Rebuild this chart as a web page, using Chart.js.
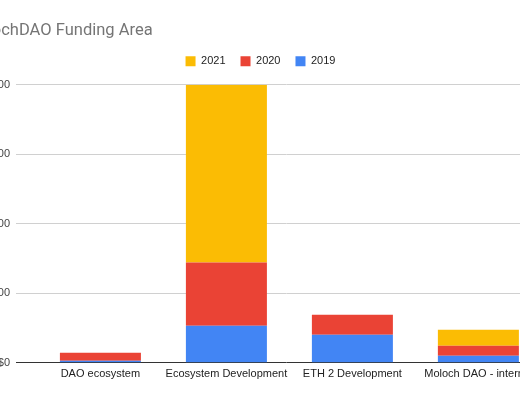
<!DOCTYPE html>
<html>
<head>
<meta charset="utf-8">
<script src="https://cdn.jsdelivr.net/npm/chart.js@4"></script>
<style>
  html, body { margin: 0; padding: 0; background: #fff; overflow: hidden; width: 520px; height: 400px; }
  #wrap { position: absolute; left: -70px; top: 0; width: 660px; height: 400px; }
</style>
</head>
<body>
<div id="wrap"><canvas id="chart"></canvas></div>
<script>
var categories = ['DAO ecosystem', 'Ecosystem Development', 'ETH 2 Development', 'Moloch DAO - internal'];
var funding2019 = [14000, 267000, 202000, 50000];
var funding2020 = [58000, 455000, 144000, 72000];
var funding2021 = [0, 1278000, 0, 116000];
var yTicks = [0, 500000, 1000000, 1500000, 2000000];

function points(values) {
    return values.map(function(v, i) { return { x: i, y: v }; });
}

var tickFont = { family: "'Liberation Sans', Arial, sans-serif", size: 11 };

// a bit more room under the legend
var legendGap = {
    id: 'legendGap',
    beforeInit: function(chart) {
        var fit = chart.legend.fit;
        chart.legend.fit = function() {
            fit.bind(chart.legend)();
            this.height += 8;
        };
    }
};

var chart = new Chart(document.getElementById('chart'), {
    type: 'bar',
    data: {
        datasets: [
            { label: '2019', data: points(funding2019), backgroundColor: '#4285f4' },
            { label: '2020', data: points(funding2020), backgroundColor: '#ea4335' },
            { label: '2021', data: points(funding2021), backgroundColor: '#fbbc04' }
        ]
    },
    plugins: [legendGap],
    options: {
        responsive: true,
        maintainAspectRatio: false,
        animation: false,
        barPercentage: 0.643,
        categoryPercentage: 1,
        layout: { padding: { left: 34, right: 33, top: 21, bottom: 14 } },
        plugins: {
            title: {
                display: true,
                text: 'MolochDAO Funding Area',
                align: 'start',
                color: '#757575',
                font: { family: 'Roboto, sans-serif', size: 16.5, weight: 'normal' },
                padding: { top: 0, bottom: 0 }
            },
            legend: {
                reverse: true,
                labels: {
                    boxWidth: 10,
                    boxHeight: 10,
                    padding: 15,
                    color: '#222',
                    font: tickFont
                }
            },
            tooltip: { enabled: false }
        },
        scales: {
            x: {
                type: 'linear',
                stacked: true,
                offset: false,
                min: -0.67,
                max: 3.624,
                afterBuildTicks: function(axis) {
                    axis.ticks = categories.map(function(c, i) { return { value: i }; });
                },
                grid: { display: false, drawTicks: false },
                border: { display: false },
                ticks: {
                    autoSkip: false,
                    maxRotation: 0,
                    padding: 5,
                    color: '#222',
                    font: tickFont,
                    callback: function(v) { return categories[v]; }
                }
            },
            y: {
                stacked: true,
                min: 0,
                max: 2000000,
                afterBuildTicks: function(axis) {
                    axis.ticks = yTicks.map(function(v) { return { value: v }; });
                },
                afterFit: function(axis) { axis.width = 52; },
                border: { display: false },
                grid: {
                    drawTicks: false,
                    color: function(ctx) { return ctx.tick && ctx.tick.value === 0 ? '#333' : '#d0d0d0'; }
                },
                ticks: {
                    padding: 6,
                    color: '#444',
                    font: tickFont,
                    callback: function(v) { return '$' + v.toLocaleString('en-US'); }
                }
            }
        }
    }
});
</script>
</body>
</html>
